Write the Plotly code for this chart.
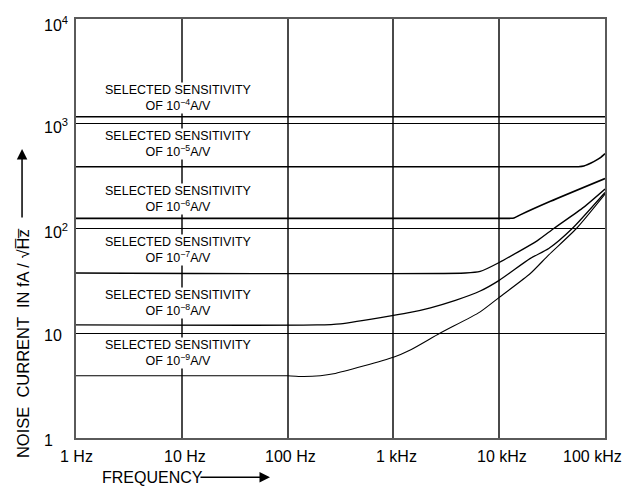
import plotly.graph_objects as go
import numpy as np

# ---- data ----
x_tick_vals = [1, 10, 100, 1000, 10000, 100000]
x_tick_text = ["1 Hz", "10 Hz", "100 Hz", "1 kHz", "10 kHz", "100 kHz"]
y_tick_vals = [1, 10, 100, 1000, 10000]
y_tick_text = ["1", "10", "10<sup>2</sup>", "10<sup>3</sup>", "10<sup>4</sup>"]

freq_s4 = [1, 100000]
noise_s4 = [1165, 1165]

freq_s5 = [1, 49000, 56000, 63100, 78300, 90600, 100000]
noise_s5 = [388, 388, 389, 395, 435, 474, 518]

freq_s6 = [1, 12600, 13800, 15800, 30500, 100000]
noise_s6 = [125, 125, 126, 135, 182, 300]

freq_s7 = [1, 4790, 6610, 10000, 22800, 32800, 63100, 100000]
noise_s7 = [37.6, 37.6, 38.9, 47.4, 76.2, 100, 160, 238]

freq_s8 = [1, 190, 316, 1000, 1445, 2240, 3855, 6610, 10000, 19700, 29400, 49000, 100000]
noise_s8 = [12.0, 12.0, 12.3, 14.8, 15.8, 17.5, 20.6, 25.3, 32.0, 51.8, 64.4, 100, 221]

freq_s9 = [1, 100, 141, 204, 272, 1000, 1445, 2750, 6610, 10000, 19700, 29400, 53700, 100000]
noise_s9 = [3.93, 3.93, 3.86, 3.93, 4.10, 5.90, 6.92, 10.0, 16.0, 22.0, 37.2, 56.0, 100, 213]

label_text = ["SELECTED SENSITIVITY<br>OF 10<sup>\u22124</sup>A/V",
              "SELECTED SENSITIVITY<br>OF 10<sup>\u22125</sup>A/V",
              "SELECTED SENSITIVITY<br>OF 10<sup>\u22126</sup>A/V",
              "SELECTED SENSITIVITY<br>OF 10<sup>\u22127</sup>A/V",
              "SELECTED SENSITIVITY<br>OF 10<sup>\u22128</sup>A/V",
              "SELECTED SENSITIVITY<br>OF 10<sup>\u22129</sup>A/V"]
label_y = [1750, 640, 192, 61.7, 19.4, 6.5]
label_x = 9.4

FONT = "Liberation Sans, Arial, Helvetica, sans-serif"

fig = go.Figure()

curves = [(freq_s4, noise_s4, 1.6), (freq_s5, noise_s5, 1.6), (freq_s6, noise_s6, 1.6),
          (freq_s7, noise_s7, 1.3), (freq_s8, noise_s8, 1.3), (freq_s9, noise_s9, 1.1)]
for fx, ny, w in curves:
    fig.add_trace(go.Scatter(x=fx, y=ny, mode="lines",
                             line=dict(color="black", width=w, shape="spline", smoothing=0.6),
                             hoverinfo="skip", showlegend=False))

annotations = []
for t, yv in zip(label_text, label_y):
    annotations.append(dict(x=np.log10(label_x), y=np.log10(yv), xref="x", yref="y",
                            text=t, showarrow=False, bgcolor="white", borderpad=0,
                            font=dict(family=FONT, size=12.5, color="black"),
                            align="center", xanchor="center", yanchor="middle"))

# y tick labels (left aligned as in the reference)
for v, t in zip(y_tick_vals, y_tick_text):
    annotations.append(dict(x=-0.0643, y=np.log10(v), xref="paper", yref="y",
                            text=t, showarrow=False, xanchor="left", yanchor="middle",
                            yshift=(-5 if v == 10000 else -2),
                            font=dict(family=FONT, size=16, color="black")))

# x tick labels (the last one is pulled inside the page as in the reference)
for v, t in zip(x_tick_vals, x_tick_text):
    shift = 0 if v == 1 else (-13 if v == 100000 else 3)
    annotations.append(dict(x=np.log10(v), y=-0.043, xref="x", yref="paper",
                            text=t, showarrow=False, xanchor="center", yanchor="middle",
                            xshift=shift, font=dict(family=FONT, size=16, color="black")))

# axis titles and arrows
annotations.append(dict(x=-0.100, y=0.2267, xref="paper", yref="paper",
                        text="NOISE  CURRENT  IN fA / \u221aH\u0305z\u0305", textangle=-90,
                        showarrow=False, xanchor="center", yanchor="middle",
                        font=dict(family=FONT, size=16.5, color="black")))
annotations.append(dict(x=-0.102, y=0.6897, xref="paper", yref="paper", text="",
                        showarrow=True, ax=0, ay=70, arrowhead=2, arrowsize=1.4,
                        arrowwidth=1.5, arrowcolor="black"))
annotations.append(dict(x=0.0454, y=-0.0938, xref="paper", yref="paper",
                        text="FREQUENCY", showarrow=False, xanchor="left", yanchor="middle",
                        font=dict(family=FONT, size=16, color="black")))
annotations.append(dict(x=0.3667, y=-0.0938, xref="paper", yref="paper", text="",
                        showarrow=True, ax=-71, ay=0, arrowhead=2, arrowsize=1.4,
                        arrowwidth=1.5, arrowcolor="black"))

# the page body has an 8px margin: shrink the figure so the plot lands where it should
fig.update_layout(
    width=623, height=481,
    margin=dict(l=68, r=26, t=9, b=51),
    paper_bgcolor="white", plot_bgcolor="white",
    annotations=annotations,
    font=dict(family=FONT, size=16, color="black"),
    xaxis=dict(type="log", range=[0, 5], tickvals=x_tick_vals, showticklabels=False,
               showgrid=True, gridcolor="#4a4a4a", gridwidth=1.6,
               showline=True, linecolor="#5a5a5a", linewidth=1.6, mirror=True,
               ticks="", zeroline=False),
    yaxis=dict(type="log", range=[0, 4], tickvals=y_tick_vals, showticklabels=False,
               showgrid=True, gridcolor="black", gridwidth=1.2,
               showline=True, linecolor="#5a5a5a", linewidth=1.6, mirror=True,
               ticks="", zeroline=False),
)

fig.write_html("out.html")
